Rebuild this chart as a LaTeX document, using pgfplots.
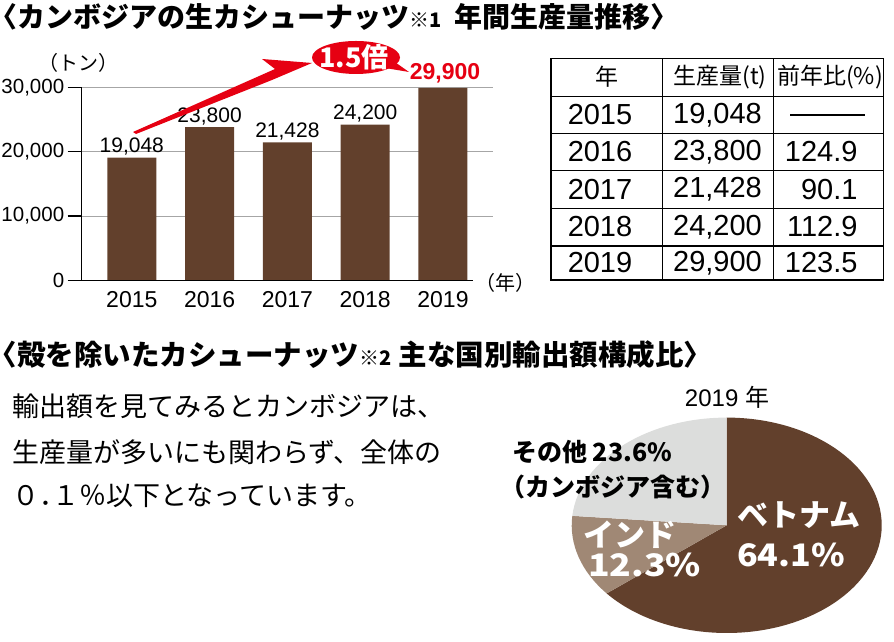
\documentclass[border=0pt]{standalone}
\usepackage{fontspec}
\setmainfont{Liberation Sans}
\newfontfamily\jp{Noto Sans CJK JP}
\newfontfamily\jph{Noto Sans CJK JP}[RawFeature=+halt]
\usepackage{graphicx}
\usepackage{pgfplots}
\usepackage{pgfplotstable}
\pgfplotsset{compat=1.18}
\definecolor{cbrown}{RGB}{98,64,44}
\definecolor{cind}{RGB}{160,136,117}
\definecolor{cgray}{RGB}{220,221,220}
\definecolor{cred}{RGB}{230,0,18}
\newcommand\fs[1]{\fontsize{#1bp}{#1bp}\selectfont}

% production (t), Cambodia raw cashew
\pgfplotstableread{
x year prod
0 2015 19048
1 2016 23800
2 2017 21428
3 2018 24200
4 2019 29900
}\prodtable

% export share 2019 (%)
\pgfplotstableread{
share
64.1
12.3
23.6
}\pietable

\begin{document}
\begin{tikzpicture}[x=1bp,y=1bp]
\useasboundingbox (0,0) rectangle (894,642);

% ---------- titles ----------
\node[anchor=west,inner sep=0] at (3,642-17)
  {\jp\bfseries\fs{28}{\jph〈}カンボジアの生カシューナッツ{\fs{20}※1}\hspace{13bp}年間生産量推移{\jph〉}};
\node[anchor=west,inner sep=0] at (3,642-355)
  {\jp\bfseries\fs{28.5}{\jph〈}殻を除いたカシューナッツ{\fs{20}※2}\hspace{7bp}主な国別輸出額構成比{\jph〉}};

% ---------- bar chart ----------
\begin{axis}[
  at={(81.7bp,361.7bp)}, anchor=south west,
  width=411.3bp, height=193bp, scale only axis,
  xmin=-0.644, xmax=4.643, ymin=0, ymax=30000,
  axis x line*=bottom, axis y line*=left,
  axis line style={-, black, line width=1.3bp},
  x axis line style={draw=none},
  ytick={10000,20000,30000},
  yticklabels={{10,000},{20,000},{30,000}},
  extra y ticks={0}, extra y tick labels={0},
  extra y tick style={grid=none},
  scaled y ticks=false,
  ymajorgrids, grid style={gray!70, line width=0.8bp},
  tick align=outside, major tick length=14bp,
  ytick style={black, line width=1.2bp},
  xtick={0,...,4}, xticklabels={2015,2016,2017,2018,2019},
  xtick style={draw=none},
  yticklabel style={font=\fs{20.5}},
  xticklabel style={font=\fs{23}, yshift=6bp},
  /pgf/number format/1000 sep={,},
  /pgf/number format/assume math mode=true,
  clip=false,
]
\addplot[ybar, fill=cbrown, draw=none, bar width=49bp]
  table[x=x,y=prod] {\prodtable};
\addplot[draw=none, mark=none, restrict x to domain=0:3,
  nodes near coords={\pgfmathprintnumber{\pgfplotspointmeta}},
  every node near coord/.append style={font=\fs{21}, black, inner sep=2bp}]
  table[x=x,y=prod] {\prodtable};
\draw[black, line width=1.3bp] (axis cs:-0.644,0) -- (axis cs:4.386,0);
\end{axis}

\node at (78.5,642-63) {\jp\fs{20}（トン）};
\node at (505,642-283) {\jp\fs{20}（年）};

% red growth arrow and callout
\fill[cred] (133,642-132) -- (275,642-69) -- (262,642-59) -- (312,642-63)
  -- (272,642-80) -- (136,642-134) -- cycle;
\fill[cred] (356,642-57.5) ellipse [x radius=44, y radius=16.5];
\fill[cred] (392,642-60) -- (409,642-72) -- (385,642-68) -- cycle;
\node[white] at (354,642-57) {\jp\bfseries\fs{27}1.5倍};
\node[cred] at (445,642-73) {\bfseries\fs{23}29,900};

% ---------- table ----------
\begin{scope}[line width=1.3bp]
\draw (551,642-58.3) rectangle (883.3,642-280);
\draw (662.7,642-58.3) -- (662.7,642-280);
\draw (773.3,642-58.3) -- (773.3,642-280);
\foreach \yy in {96.7,133.3,170.7,208.3,246}
  \draw (551,642-\yy) -- (883.3,642-\yy);
\draw (790,642-115) -- (865,642-115);
\end{scope}
\node at (607,642-77) {\jp\fs{23}年};
\node at (720,642-77) {\jp\fs{23}生産量(t)};
\node at (830,642-77) {\jp\fs{23}前年比(\%)};
\foreach \yr/\pv/\rt/\yy in {2015/{19,048}//115, 2016/{23,800}/124.9/152,
    2017/{21,428}/90.1/189.5, 2018/{24,200}/112.9/227, 2019/{29,900}/123.5/263}{
  \node at (600,642-\yy) {\fs{29}\yr};
  \node at (717.5,642-\yy) {\fs{29}\pv};
  \node[anchor=east] at (861,642-\yy) {\fs{29}\rt};
}

% ---------- body text ----------
\node[anchor=west,inner sep=0] at (12,642-406) {\jp\fs{27}輸出額を見てみるとカンボジアは、};
\node[anchor=west,inner sep=0] at (12,642-452) {\jp\fs{27}生産量が多いにも関わらず、全体の};
\node[anchor=west,inner sep=0] at (12,642-496) {\jp\fs{27}０{\jph．}１％以下となっています。};

% ---------- pie ----------
\pgfplotstablegetelem{0}{share}\of\pietable \let\vn\pgfplotsretval
\pgfplotstablegetelem{1}{share}\of\pietable \let\ind\pgfplotsretval
\pgfplotstablegetelem{2}{share}\of\pietable \let\oth\pgfplotsretval
\pgfmathsetmacro\aA{90-3.6*\vn}
\pgfmathsetmacro\aB{\aA-3.6*\ind}
\pgfmathsetmacro\aC{\aB-3.6*\oth}
\begin{axis}[
  at={(726.7bp,116.7bp)}, anchor=center,
  width=310bp, height=215.4bp, scale only axis,
  xmin=-1, xmax=1, ymin=-1, ymax=1, hide axis, clip=false,
]
\fill[cbrown] (axis cs:0,0) -- (axis cs:0,1)
  arc[start angle=90, end angle=\aA, x radius=155bp, y radius=107.7bp] -- cycle;
\fill[cind] (axis cs:0,0) -- (axis cs:{cos(\aA)},{sin(\aA)})
  arc[start angle=\aA, end angle=\aB, x radius=155bp, y radius=107.7bp] -- cycle;
\fill[cgray] (axis cs:0,0) -- (axis cs:{cos(\aB)},{sin(\aB)})
  arc[start angle=\aB, end angle=\aC, x radius=155bp, y radius=107.7bp] -- cycle;
\end{axis}

\node at (727,642-397) {\fs{24}2019 {\jp 年}};
\node[anchor=west,inner sep=0] at (512,642-452) {\jp\bfseries\fs{25}その他 23.6\%};
\node[anchor=west,inner sep=0] at (500,642-487) {\jp\bfseries\fs{25}（カンボジア含む）};
\node[anchor=west,inner sep=0,white] at (737,642-515) {\jp\bfseries\fs{31}ベトナム};
\node[anchor=west,inner sep=0,white] at (737,642-555) {\scalebox{1.1}[1]{\jp\bfseries\fs{31}64.1\%}};
\node[anchor=west,inner sep=0,white] at (583,642-535) {\jp\bfseries\fs{31}インド};
\node[anchor=west,inner sep=0,white] at (588,642-565) {\scalebox{1.15}[1]{\jp\bfseries\fs{31}12.3\%}};
\end{tikzpicture}
\end{document}
